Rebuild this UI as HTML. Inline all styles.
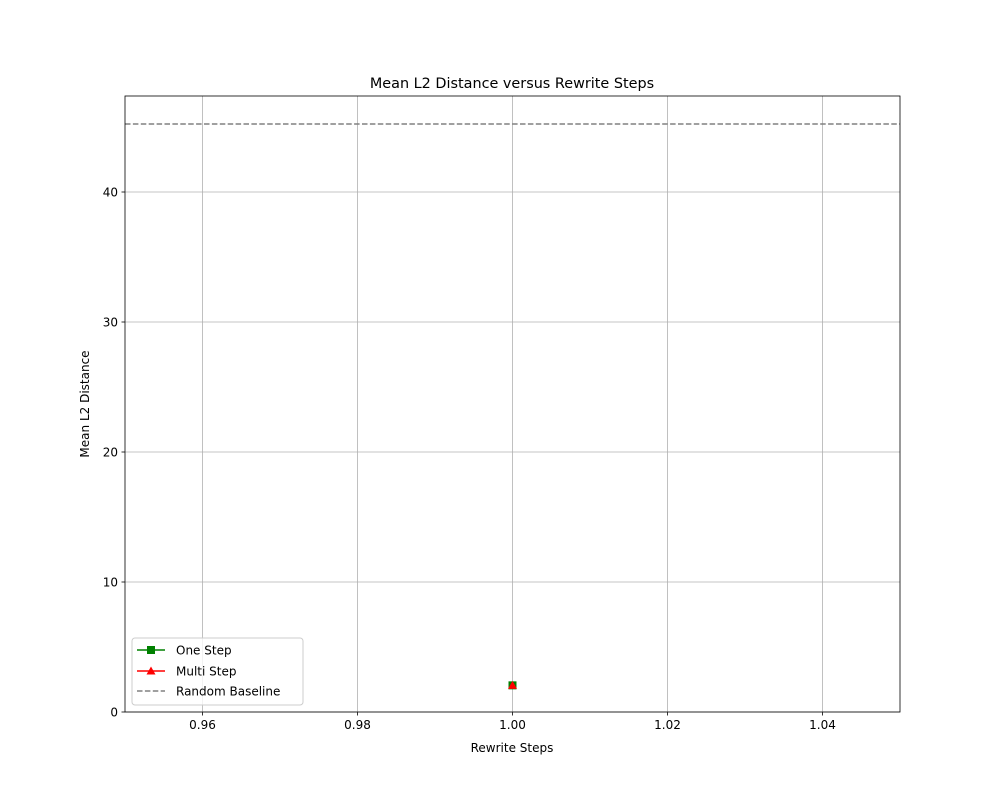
<!DOCTYPE html>
<html><head><meta charset="utf-8"><style>
body{margin:0;background:#fff}
svg{display:block;font-family:"DejaVu Sans","Liberation Sans",sans-serif}
</style></head><body>
<svg id="c" width="1000" height="800"></svg>
<script>
const steps = [1.0];
const oneStep = [2.05];
const multiStep = [2.05];
const baseline = [45.23];
const xTicks = [0.96, 0.98, 1.00, 1.02, 1.04];
const xTickLabels = ["0.96", "0.98", "1.00", "1.02", "1.04"];
const yTicks = [0, 10, 20, 30, 40];
const yTickLabels = ["0", "10", "20", "30", "40"];

const L=125,R=900,T=96,B=712,xmin=0.95,xmax=1.05,ymin=0,ymax=47.385;
const xs=v=>L+(v-xmin)/(xmax-xmin)*(R-L);
const ys=v=>B-(v-ymin)/(ymax-ymin)*(B-T);
const svg=document.getElementById('c');
const NS='http://www.w3.org/2000/svg';
function mk(t,a,p){const e=document.createElementNS(NS,t);for(const k in a)e.setAttribute(k,a[k]);(p||svg).appendChild(e);return e;}

xTicks.forEach((v,i)=>{
  const g=mk('line',{x1:xs(v),x2:xs(v),y1:T,y2:B,stroke:'#b0b0b0','stroke-width':0.8});
  
  
  mk('line',{x1:xs(v),x2:xs(v),y1:B,y2:B+3.5,stroke:'#000','stroke-width':0.8});
  const t=mk('text',{x:xs(v),y:B+17,'text-anchor':'middle','font-size':12});
  t.textContent=xTickLabels[i];
  
  
});
yTicks.forEach((v,i)=>{
  const g=mk('line',{x1:L,x2:R,y1:ys(v),y2:ys(v),stroke:'#b0b0b0','stroke-width':0.8});
  
  
  mk('line',{x1:L-3.5,x2:L,y1:ys(v),y2:ys(v),stroke:'#000','stroke-width':0.8});
  const t=mk('text',{x:L-7,y:ys(v)+4.5,'text-anchor':'end','font-size':12});
  t.textContent=yTickLabels[i];
  
  
});

const bl=mk('line',{x1:L,x2:R,y1:ys(baseline[0]),y2:ys(baseline[0]),stroke:'#808080','stroke-width':1.5,'stroke-dasharray':'5.5,2.4'});



steps.forEach((s,i)=>{
  const x=xs(s),y=ys(oneStep[i]);
  const m=mk('rect',{x:x-4,y:y-4,width:8,height:8,fill:'green'});
  
  
  const y2=ys(multiStep[i]);
  const p=mk('polygon',{points:`${x},${y2-4.5} ${x-4.5},${y2+3.5} ${x+4.5},${y2+3.5}`,fill:'red'});
  
  
});

const fr=mk('rect',{x:L,y:T,width:R-L,height:B-T,fill:'none',stroke:'#000','stroke-width':0.8});



let t=mk('text',{x:512,y:88,'text-anchor':'middle','font-size':14.4});
t.textContent='Mean L2 Distance versus Rewrite Steps';


t=mk('text',{x:512,y:752,'text-anchor':'middle','font-size':12});
t.textContent='Rewrite Steps';


t=mk('text',{x:89,y:404,'text-anchor':'middle','font-size':12,transform:'rotate(-90 89 404)'});
t.textContent='Mean L2 Distance';



const lg=mk('g',{});


mk('rect',{x:132,y:638,width:171,height:67,rx:3,fill:'#fff','fill-opacity':0.8,stroke:'#ccc'},lg);
const ents=[['One Step','green','sq',650],['Multi Step','red','tri',671],['Random Baseline','#808080','dash',691]];
ents.forEach(e=>{
  const g=mk('g',{},lg);
  
  
  if(e[2]==='dash') mk('line',{x1:137,x2:165,y1:e[3],y2:e[3],stroke:e[1],'stroke-width':1.5,'stroke-dasharray':'5.5,2.4'},g);
  else mk('line',{x1:137,x2:165,y1:e[3],y2:e[3],stroke:e[1],'stroke-width':1.5},g);
  if(e[2]==='sq') mk('rect',{x:147,y:e[3]-4,width:8,height:8,fill:e[1]},g);
  if(e[2]==='tri') mk('polygon',{points:`151,${e[3]-4.5} 146.5,${e[3]+3.5} 155.5,${e[3]+3.5}`,fill:e[1]},g);
  const tx=mk('text',{x:176,y:e[3]+4.5,'font-size':12},g);
  tx.textContent=e[0];
});
</script>
</body></html>
